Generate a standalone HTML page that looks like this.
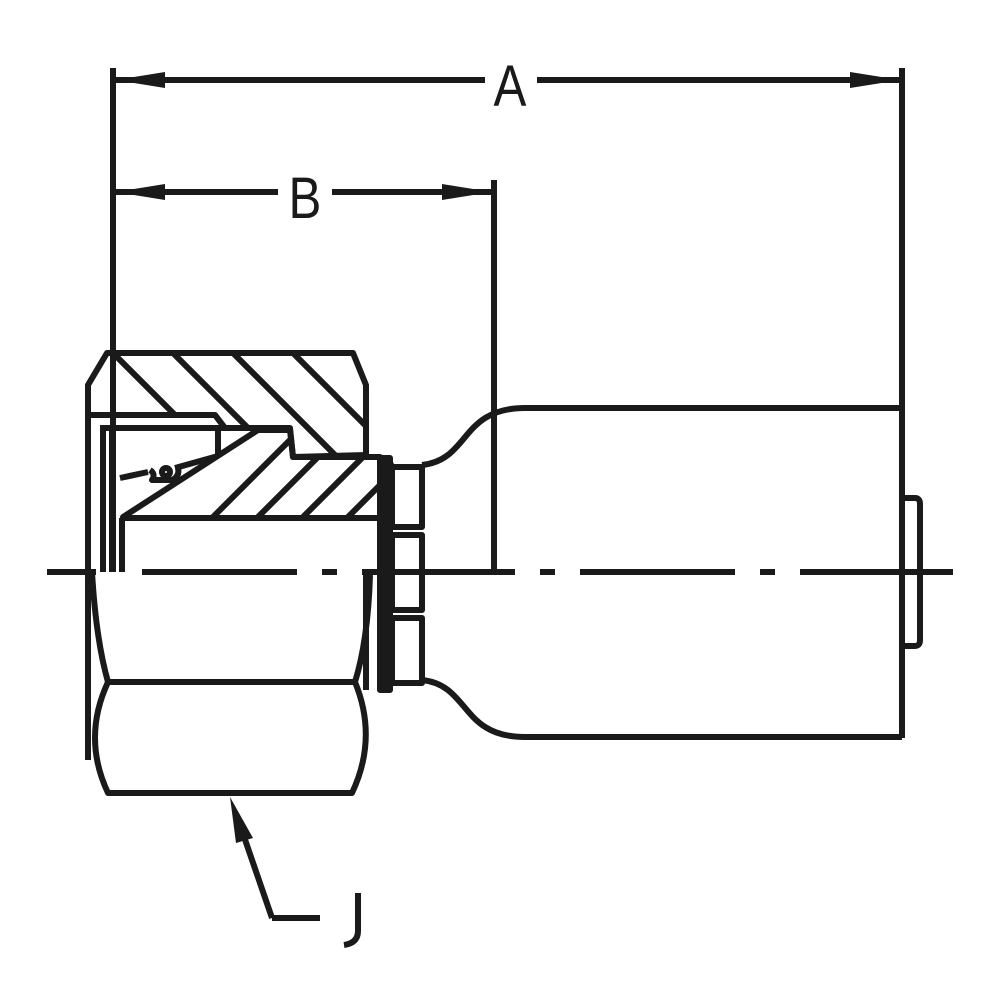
<!DOCTYPE html>
<html><head><style>html,body{margin:0;padding:0;background:#fff}svg{display:block}</style></head>
<body>
<svg width="1000" height="1000" viewBox="0 0 1000 1000" xmlns="http://www.w3.org/2000/svg">
<defs>
<clipPath id="c1"><polygon points="107,353 353,353 366,385 366,455 293,455 290,428 225,428 215,415 88,415 88,385"/></clipPath>
<clipPath id="c2"><polygon points="123,517 258,430 290,430 293,457 380,457 380,518 123,518"/></clipPath>
</defs>
<g fill="none" stroke="#1a1a1a" stroke-width="6" stroke-linecap="butt" stroke-linejoin="round">
<line x1="113" y1="68" x2="113" y2="572"/>
<line x1="902" y1="68" x2="902" y2="738"/>
<line x1="113" y1="80" x2="485" y2="80"/>
<line x1="537" y1="80" x2="902" y2="80"/>
<line x1="494" y1="180" x2="494" y2="572"/>
<line x1="113" y1="192" x2="278" y2="192"/>
<line x1="332" y1="192" x2="494" y2="192"/>
<polygon points="107,353 353,353 366,385 366,455 293,457 290,428 225,428 215,415 88,415 88,385"/>
<line x1="88" y1="415" x2="88" y2="572"/>
<polygon points="123,517 258,430 290,430 293,457 380,457 380,518 123,518"/>
<line x1="103" y1="425" x2="103" y2="572"/>
<line x1="112" y1="425" x2="112" y2="572"/>
<line x1="122" y1="518" x2="122" y2="572"/>
<line x1="103" y1="428" x2="225" y2="428"/>
<line x1="218" y1="430" x2="218" y2="456"/>
<polyline points="218,456 175,468"/>
<polyline points="120,478 148,472"/>
<circle cx="166" cy="472" r="4"/>
<path d="M150,470 q6,4 2,10 h20 q8,-4 6,-12"/>
<path d="M92,572 Q96,640 108,682 L355,682 Q368,640 370,575"/>
<path d="M108,682 Q82,738 108,793 L352,793 Q378,738 355,682"/>
<line x1="88" y1="572" x2="88" y2="760"/>
<line x1="366" y1="575" x2="366" y2="690"/>
<rect x="380" y="458" width="10" height="232" fill="#1a1a1a"/>
<path d="M380,458 q10,0 12,10"/>
<path d="M380,690 q10,0 12,-10"/>
<rect x="392" y="467" width="30" height="60"/>
<rect x="392" y="535" width="30" height="75"/>
<rect x="392" y="618" width="30" height="65"/>
<path d="M422,465 C470,460 460,408 525,408 L902,408"/>
<path d="M422,680 C470,685 460,737 525,737 L902,737"/>
<path d="M903,498 h12 q5,0 5,6 v136 q0,6 -5,6 h-12"/>
<line x1="240" y1="825" x2="272" y2="918"/>
<line x1="272" y1="918" x2="320" y2="918"/>
<path d="M358,893 v38 q0,12 -14,14"/>
</g>
<g stroke="#1a1a1a" stroke-width="6" clip-path="url(#c1)">
<line x1="60" y1="300" x2="240" y2="480"/>
<line x1="120" y1="300" x2="300" y2="480"/>
<line x1="180" y1="300" x2="360" y2="480"/>
<line x1="240" y1="300" x2="420" y2="480"/>
<line x1="300" y1="300" x2="480" y2="480"/>
<line x1="360" y1="300" x2="540" y2="480"/>
</g>
<g stroke="#1a1a1a" stroke-width="6" clip-path="url(#c2)">
<line x1="170" y1="560" x2="330" y2="400"/>
<line x1="215" y1="560" x2="375" y2="400"/>
<line x1="260" y1="560" x2="420" y2="400"/>
<line x1="305" y1="560" x2="465" y2="400"/>
<line x1="350" y1="560" x2="510" y2="400"/>
<line x1="395" y1="560" x2="555" y2="400"/>
</g>
<g fill="#1a1a1a">
<polygon points="115,80 165,72 165,88"/>
<polygon points="900,80 850,72 850,88"/>
<polygon points="115,192 165,184 165,200"/>
<polygon points="492,192 442,184 442,200"/>
<polygon points="230,797 253,838 236,843"/>
</g>
<g stroke="#1a1a1a" stroke-width="6">
<line x1="47" y1="572" x2="96" y2="572"/>
<line x1="142" y1="572" x2="297" y2="572"/>
<line x1="322" y1="572" x2="337" y2="572"/>
<line x1="362" y1="572" x2="515" y2="572"/>
<line x1="540" y1="572" x2="555" y2="572"/>
<line x1="580" y1="572" x2="735" y2="572"/>
<line x1="760" y1="572" x2="775" y2="572"/>
<line x1="800" y1="572" x2="953" y2="572"/>
</g>
<g font-family="Liberation Sans, sans-serif" fill="#1a1a1a" text-anchor="middle" font-size="58">
<text x="510" y="106" transform="translate(510 0) scale(0.85 1) translate(-510 0)">A</text>
<text x="305" y="218" transform="translate(305 0) scale(0.85 1) translate(-305 0)">B</text>
</g>
</svg>
</body></html>
